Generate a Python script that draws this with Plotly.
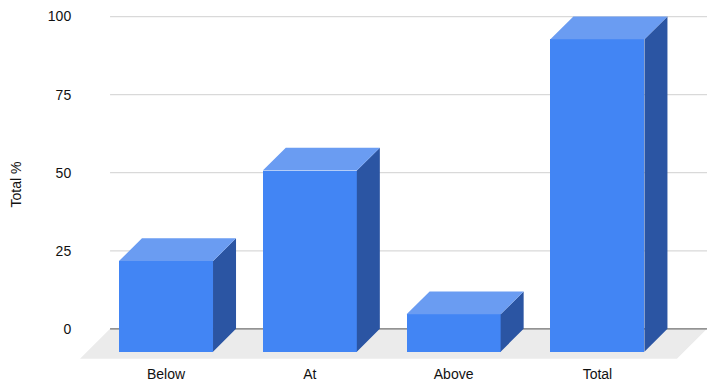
import plotly.graph_objects as go

# Categories and their percentage values
categories = ["Below", "At", "Above", "Total"]
values = [29, 58, 12, 100]
y_ticks = [0, 25, 50, 75, 100]

# Pseudo-3D styling (in axis units)
BAR_W = 0.654        # front face width
DEPTH_X = 0.16       # horizontal depth offset of bars
DEPTH_Y = 7.3        # vertical depth offset of bars
FLOOR_DX = 0.209     # floor depth (x)
FLOOR_DY = 9.6       # floor depth (y)
X_MIN, X_MAX = -0.598, 3.762
Y_MIN, Y_MAX = -9.65, 102.1

FRONT = "#4285F4"
TOP = "#6A9CF2"
SIDE = "#2B55A3"
FLOOR = "#EBEBEB"

xs = list(range(len(categories)))

fig = go.Figure()

# Top faces
top_x, top_y = [], []
for x, v in zip(xs, values):
    l, r = x - BAR_W / 2, x + BAR_W / 2
    top_x += [l, r, r + DEPTH_X, l + DEPTH_X, l, None]
    top_y += [v - DEPTH_Y, v - DEPTH_Y, v, v, v - DEPTH_Y, None]

# Side faces
side_x, side_y = [], []
for x, v in zip(xs, values):
    r = x + BAR_W / 2
    side_x += [r, r + DEPTH_X, r + DEPTH_X, r, r, None]
    side_y += [-DEPTH_Y, 0, v, v - DEPTH_Y, -DEPTH_Y, None]

fig.add_trace(go.Scatter(x=side_x, y=side_y, mode="lines", fill="toself",
                         fillcolor=SIDE, line=dict(width=0, color=SIDE),
                         hoverinfo="skip", showlegend=False))
fig.add_trace(go.Scatter(x=top_x, y=top_y, mode="lines", fill="toself",
                         fillcolor=TOP, line=dict(width=0, color=TOP),
                         hoverinfo="skip", showlegend=False))

# Front faces
fig.add_trace(go.Bar(x=xs, y=values, base=[-DEPTH_Y] * len(values),
                     width=BAR_W, marker=dict(color=FRONT, line=dict(width=0)),
                     showlegend=False))

# Floor
back_left = X_MIN + FLOOR_DX
front_right = X_MAX - FLOOR_DX
fig.add_shape(type="path", layer="below", line=dict(width=0), fillcolor=FLOOR,
              path=f"M {X_MIN} {-FLOOR_DY} L {back_left} 0 L {X_MAX} 0 "
                   f"L {front_right} {-FLOOR_DY} Z")

# Gridlines on the back wall
for t in y_ticks:
    fig.add_shape(type="line", layer="below", x0=back_left, x1=X_MAX, y0=t, y1=t,
                  line=dict(color="#707070" if t == 0 else "#D9D9D9", width=1.3))

fig.update_layout(
    width=713, height=388,
    margin=dict(l=80, r=6, t=10, b=27),
    plot_bgcolor="white", paper_bgcolor="white",
    font=dict(family="Liberation Sans, Arial, sans-serif", size=14, color="#111111"),
    bargap=0,
    xaxis=dict(range=[X_MIN, X_MAX], tickvals=xs, ticktext=categories,
               showgrid=False, zeroline=False, showline=False,
               ticks="outside", ticklen=2, tickcolor="rgba(0,0,0,0)"),
    yaxis=dict(range=[Y_MIN, Y_MAX], tickvals=y_ticks,
               showgrid=False, zeroline=False, showline=False,
               ticks="outside", ticklen=5, tickcolor="rgba(0,0,0,0)",
               title=dict(text="Total %", standoff=22,
                          font=dict(size=14, color="#111111"))),
)

fig.write_html("out.html")
